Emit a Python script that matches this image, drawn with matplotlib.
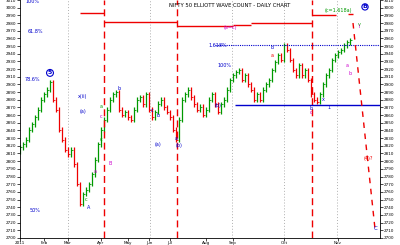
import matplotlib
matplotlib.use("Agg")
import matplotlib.pyplot as plt

# closing prices, one per bar
closes = [
    2818, 2822, 2828, 2841, 2848, 2857, 2867, 2880, 2887, 2893,
    2903, 2880, 2867, 2841, 2828, 2815, 2809, 2815, 2796, 2770,
    2744, 2757, 2763, 2770, 2783, 2802, 2822, 2841, 2854, 2867,
    2880, 2887, 2890, 2867, 2860, 2864, 2857, 2854, 2867, 2880,
    2883, 2874, 2887, 2867, 2857, 2864, 2875, 2880, 2870, 2864,
    2857, 2841, 2828, 2854, 2880, 2887, 2893, 2883, 2874, 2867,
    2871, 2860, 2867, 2880, 2887, 2874, 2864, 2874, 2880, 2893,
    2906, 2912, 2916, 2919, 2906, 2912, 2900, 2893, 2880, 2887,
    2880, 2893, 2900, 2906, 2919, 2929, 2938, 2932, 2951, 2945,
    2932, 2919, 2912, 2925, 2912, 2919, 2906, 2887, 2880, 2877,
    2887, 2900, 2912, 2919, 2932, 2938, 2942, 2945, 2951, 2955,
    2958,
]
first_open = 2812

price_ticks = list(range(2700, 3011, 10))
month_pos = [0, 8, 16, 27, 36, 43, 50, 62, 71, 88, 106]
month_names = ["2011", "Feb", "Mar", "Apr", "May", "Jun", "Jul", "Aug", "Sep", "Oct", "Nov"]

grey_lines = [16, 43.3, 70.7, 88, 105.7]
red_dashed = [28, 52.3, 97.3]
# horizontal red target levels: (start, end, price)
red_levels = [(20, 28, 2993), (28, 52.3, 2981.5), (52.3, 71, 2976),
              (71, 77, 2977), (77, 97.3, 2980.5), (97.3, 105.3, 2990.5),
              (109.3, 111, 2991.5)]
blue_dotted = 2951.5
blue_solid = 2873.5
projection = ([111, 118.3], [2980, 2713])

fig = plt.figure(figsize=(4, 2.45), dpi=100)
ax = fig.add_axes([0.05, 0.029, 0.90, 0.971])

opens = [first_open] + closes[:-1]
for i, (o, c) in enumerate(zip(opens, closes)):
    col = "#009900" if c >= o else "#ee0000"
    lo, hi = min(o, c), max(o, c)
    ax.vlines(i, lo - 3, hi + 3, color=col, linewidth=0.9)
    ax.hlines(c, i, i + 0.5, color=col, linewidth=0.6)

for x in grey_lines:
    ax.axvline(x, color="#b0b0b0", linestyle=(0, (1, 2)), linewidth=0.7, zorder=0)
for x in red_dashed:
    ax.axvline(x, color="#ee0000", linestyle=(0, (5, 3)), linewidth=1.0)
for x0, x1, p in red_levels:
    ax.hlines(p, x0, x1, color="#ee0000", linewidth=1.0)

ax.hlines(blue_dotted, 65, 120, color="#0000cc", linestyle=(0, (1, 1)), linewidth=0.8)
ax.hlines(blue_solid, 71.7, 120, color="#0000cc", linewidth=1.0)
ax.plot(projection[0], projection[1], color="#ee0000", linestyle=(0, (4, 4)), linewidth=1.0)

fs = 3.5
ax.text(10, 2915, "5", color="#0000cc", fontsize=4.5, ha="center", va="center",
        fontweight="bold", bbox=dict(boxstyle="circle,pad=0.15", fc="none", ec="#0000cc", lw=0.8))
ax.text(115, 3001, "B", color="#0000cc", fontsize=4.5, ha="center", va="center",
        fontweight="bold", bbox=dict(boxstyle="circle,pad=0.1", fc="none", ec="#0000cc", lw=0.8))
ax.text(118.5, 2712, "C", color="#0000cc", fontsize=4, ha="center", va="center")
labels = [
    (4, 3008, "100%", "#0000cc"), (5, 2969, "61.8%", "#0000cc"),
    (4, 2906, "78.6%", "#0000cc"), (5, 2736, "50%", "#0000cc"),
    (21, 2884, "x(ii)", "#0000cc"), (21, 2865, "(a)", "#0000cc"),
    (27, 2871, "a", "#009900"), (27, 2858, "c", "#cc00cc"),
    (33, 2895, "b", "#0000cc"), (44, 2866, "c", "#0000cc"),
    (46, 2860, "b", "#0000cc"), (53, 2820, "(b)", "#0000cc"),
    (52, 2830, "a", "#0000cc"), (30, 2797, "B", "#cc00cc"),
    (25, 2786, "a", "#cc00cc"), (23, 2740, "A", "#0000cc"),
    (22, 2750, "c", "#009900"), (46, 2822, "(a)", "#0000cc"),
    (27, 2828, "c", "#009900"), (84, 2948, "b", "#0000cc"),
    (84, 2938, "a", "#ee0000"), (66, 2951, "1.618%", "#0000cc"),
    (68, 2925, "100%", "#0000cc"), (66, 2873, "(b)", "#0000cc"),
    (97, 2863, "c", "#cc00cc"), (97, 2869, "b", "#0000cc"),
    (101, 2880, "x", "#0000cc"), (103, 2870, "1", "#0000cc"),
    (109, 2925, "a", "#cc00cc"), (110, 2914, "b", "#cc00cc"),
    (113, 2978, "v", "#009900"), (113, 2975, "i", "#cc00cc"),
]
for x, y, s, col in labels:
    ax.text(x, y, s, color=col, fontsize=fs, ha="center", va="center")

ax.text(70, 2974, "(a=c)", color="#cc00cc", fontsize=fs, ha="center", va="center")
ax.text(106, 2996, "(c=1.618a)", color="#009900", fontsize=fs, ha="center", va="center")
ax.text(116, 2803, "(4)?", color="#ee0000", fontsize=fs, ha="center", va="center")
ax.text(70, 3003, "NIFTY 50 ELLIOTT WAVE COUNT - DAILY CHART", color="black",
        fontsize=3.8, ha="center", va="center")

ax.set_xlim(0, 120)
ax.set_ylim(2700.5, 3010)
ax.set_yticks(price_ticks)
ax.set_yticklabels([str(p) for p in price_ticks])
ax.tick_params(axis="y", labelsize=3, length=2, width=0.5, pad=1,
               left=True, right=True, labelleft=True, labelright=True)
ax.set_xticks(month_pos)
ax.set_xticklabels(month_names)
ax.tick_params(axis="x", labelsize=3, length=2, width=0.5, pad=0.5)
ax.spines["top"].set_visible(False)
for side in ("left", "right", "bottom"):
    ax.spines[side].set_linewidth(0.6)

fig.savefig("out.png", dpi=100)
